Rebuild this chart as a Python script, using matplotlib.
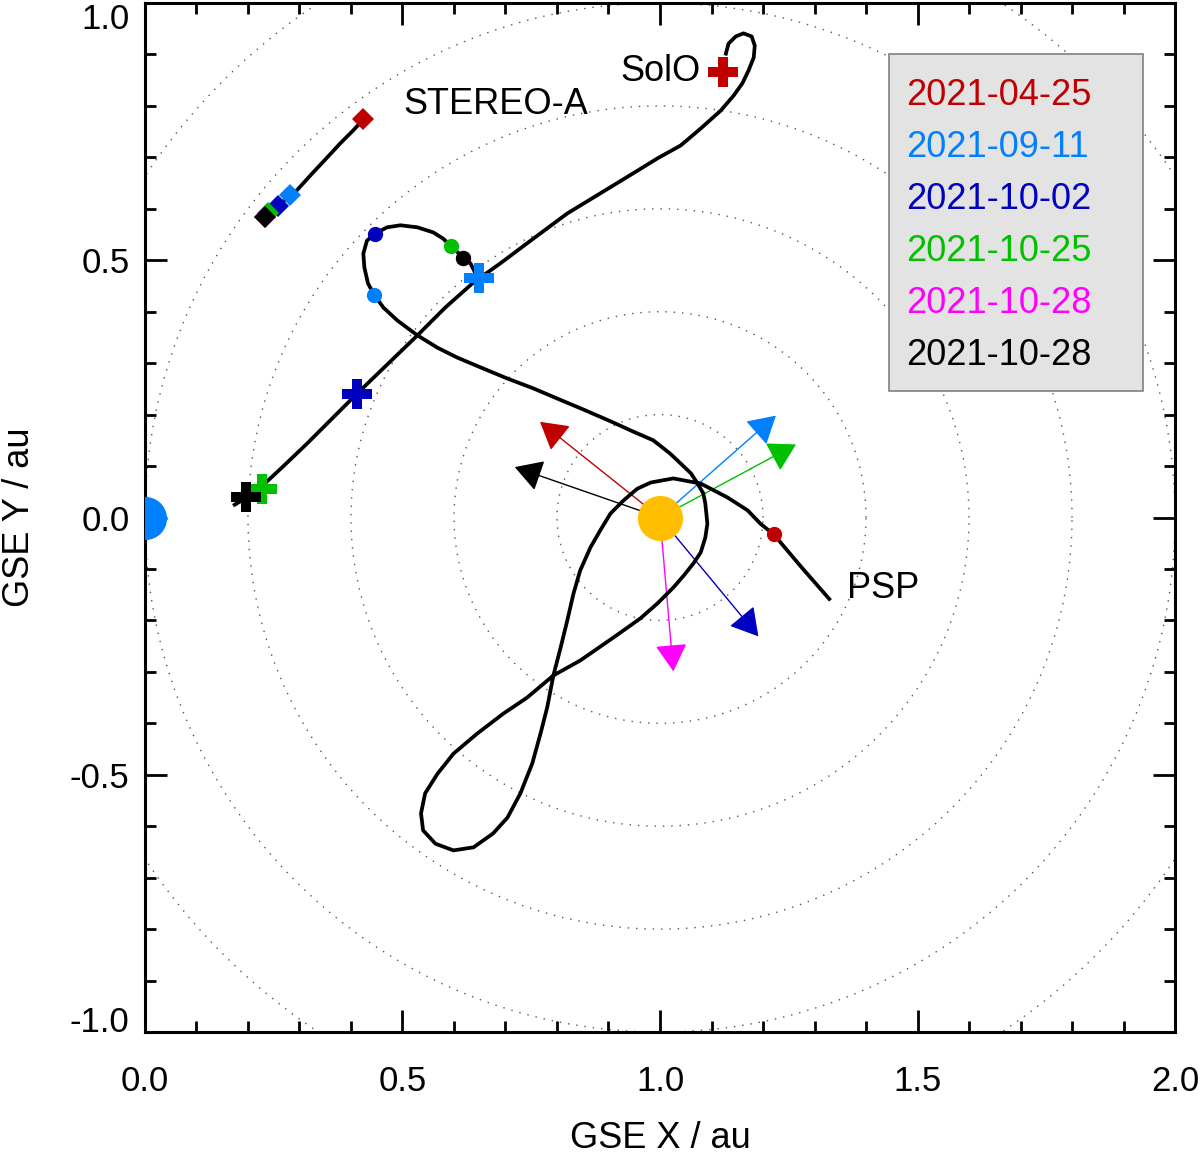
import numpy as np
import matplotlib
matplotlib.use("Agg")
import matplotlib.pyplot as plt
from matplotlib.patches import Rectangle

plt.rcParams['font.family'] = ['Liberation Sans', 'DejaVu Sans']

# ---------------- data (GSE coordinates, au) ----------------
dates = ["2021-04-25", "2021-09-11", "2021-10-02", "2021-10-25", "2021-10-28", "2021-10-28"]
colors = ["#C00000", "#0080FF", "#0000C0", "#00C000", "#FF00FF", "#000000"]

psp_x = [1.331, 1.275, 1.221, 1.195, 1.170, 1.131, 1.079, 1.026, 0.982, 0.956, 0.929, 0.904,
         0.884, 0.865, 0.845, 0.832, 0.820, 0.807, 0.793, 0.781, 0.768, 0.752, 0.729, 0.704,
         0.676, 0.638, 0.599, 0.564, 0.540, 0.536, 0.544, 0.568, 0.599, 0.645, 0.696, 0.742,
         0.793, 0.845, 0.910, 0.962, 0.995, 1.026, 1.046, 1.065, 1.079, 1.088, 1.092, 1.088,
         1.084, 1.073, 1.060, 1.040, 1.020, 0.987, 0.948, 0.904, 0.851, 0.801, 0.754, 0.704,
         0.651, 0.606, 0.568, 0.529, 0.490, 0.463, 0.445, 0.433, 0.426, 0.424, 0.431, 0.447,
         0.470, 0.496, 0.529, 0.560, 0.579, 0.595, 0.618, 0.632, 0.641]
psp_y = [-0.161, -0.097, -0.033, -0.012, 0.014, 0.039, 0.066, 0.076, 0.068, 0.056, 0.033, 0.008,
         -0.025, -0.058, -0.103, -0.148, -0.200, -0.253, -0.307, -0.369, -0.420, -0.478, -0.536, -0.583,
         -0.614, -0.641, -0.647, -0.634, -0.608, -0.575, -0.536, -0.498, -0.459, -0.420, -0.381, -0.350,
         -0.307, -0.278, -0.233, -0.196, -0.167, -0.136, -0.113, -0.089, -0.068, -0.039, -0.012, 0.027,
         0.047, 0.066, 0.086, 0.105, 0.124, 0.150, 0.167, 0.187, 0.210, 0.231, 0.251, 0.270,
         0.292, 0.311, 0.330, 0.354, 0.383, 0.408, 0.433, 0.455, 0.486, 0.513, 0.538, 0.552,
         0.564, 0.568, 0.564, 0.554, 0.542, 0.527, 0.505, 0.494, 0.476]

solo_x = [1.127, 1.133, 1.147, 1.162, 1.178, 1.184, 1.182, 1.172, 1.160, 1.143, 1.118, 1.079,
          1.040, 0.995, 0.948, 0.884, 0.820, 0.754, 0.690, 0.638, 0.583, 0.529, 0.470, 0.412,
          0.363, 0.315, 0.268, 0.224, 0.198, 0.171]
solo_y = [0.898, 0.921, 0.935, 0.941, 0.935, 0.917, 0.894, 0.869, 0.844, 0.820, 0.791, 0.756,
          0.723, 0.698, 0.669, 0.630, 0.591, 0.542, 0.494, 0.457, 0.408, 0.354, 0.297, 0.241,
          0.192, 0.144, 0.099, 0.058, 0.039, 0.023]

sta_x = [0.424, 0.404, 0.379, 0.354, 0.325, 0.295, 0.259, 0.233]
sta_y = [0.774, 0.752, 0.727, 0.700, 0.669, 0.636, 0.606, 0.585]

# positions at the event dates (red, light blue, dark blue, green, magenta, black)
psp_ev_x = [1.221, 0.445, 0.447, 0.595, 0.618, 0.618]
psp_ev_y = [-0.033, 0.433, 0.552, 0.527, 0.505, 0.505]
solo_ev_x = [1.123, 0.649, 0.412, 0.227, 0.196, 0.196]
solo_ev_y = [0.865, 0.465, 0.241, 0.056, 0.039, 0.039]
sta_ev_x = [0.424, 0.282, 0.259, 0.239, 0.233, 0.233]
sta_ev_y = [0.774, 0.626, 0.606, 0.591, 0.585, 0.585]

# propagation directions (arrow tips)
arrow_x = [0.767, 1.225, 1.191, 1.264, 1.026, 0.718]
arrow_y = [0.186, 0.198, -0.231, 0.142, -0.299, 0.098]

sun_xy = (1.0, 0.0)
earth_xy = (0.0, 0.0)
ring_radii = [0.2, 0.4, 0.6, 0.8, 1.0, 1.2]

x_ticks = [0.0, 0.5, 1.0, 1.5, 2.0]
x_ticklabels = ["0.0", "0.5", "1.0", "1.5", "2.0"]
y_ticks = [-1.0, -0.5, 0.0, 0.5, 1.0]
y_ticklabels = ["-1.0", "-0.5", "0.0", "0.5", "1.0"]

# ---------------- figure ----------------
fig = plt.figure(figsize=(12, 11.54), dpi=100)
ax = fig.add_axes([0.1208, 0.1057, 0.8584, 0.8917])
ax.set_xlim(0, 2)
ax.set_ylim(-1, 1)

# dotted distance circles around the Sun
th = np.linspace(0, 2 * np.pi, 721)
for r in ring_radii:
    ax.plot(sun_xy[0] + r * np.cos(th), sun_xy[1] + r * np.sin(th),
            color="#555555", lw=1.0, ls=(0, (1, 5)), zorder=1)

# arrows from the Sun
for ax_, ay_, c in zip(arrow_x, arrow_y, colors):
    ax.annotate("", xy=(ax_, ay_), xytext=sun_xy, xycoords="data",
                arrowprops=dict(arrowstyle="-|>,head_length=0.86,head_width=0.5",
                                color=c, lw=1.0, mutation_scale=20,
                                shrinkA=0, shrinkB=0), zorder=2)

# trajectories
for xs, ys in ((psp_x, psp_y), (solo_x, solo_y), (sta_x, sta_y)):
    ax.plot(xs, ys, color="black", lw=2.7, zorder=3,
            solid_joinstyle="round", solid_capstyle="butt")

# event markers
for i, c in enumerate(colors):
    ax.plot(psp_ev_x[i], psp_ev_y[i], marker="o", ms=11, color=c, mew=0, zorder=4)
    ax.plot(sta_ev_x[i], sta_ev_y[i], marker="D", ms=11, color=c, mew=0, zorder=4)
    ax.plot(solo_ev_x[i], solo_ev_y[i], marker="P", ms=21.5, color=c, mew=0, zorder=4)

# Sun and Earth
ax.plot(*sun_xy, marker="o", ms=32.5, color="#FFBF00", mew=0, zorder=5)
ax.plot(*earth_xy, marker="o", ms=31, color="#0080FF", mew=0, zorder=5, clip_on=True)

# spacecraft labels
ax.text(0.501, 0.803, "STEREO-A", fontsize=26, va="center", ha="left", zorder=6)
ax.text(0.923, 0.867, "SolO", fontsize=26, va="center", ha="left", zorder=6)
ax.text(1.364, -0.138, "PSP", fontsize=26, va="center", ha="left", zorder=6)

# legend box with dates
ax.add_patch(Rectangle((0.7223, 0.6229), 0.2466, 0.3275, transform=ax.transAxes,
                       facecolor="#E3E3E3", edgecolor="#808080", lw=1.2, zorder=7))
leg_y = [0.9100, 0.8595, 0.8090, 0.7584, 0.7079, 0.6574]
for d, c, yy in zip(dates, colors, leg_y):
    ax.text(0.7385, yy, d, color=c, fontsize=26, transform=ax.transAxes,
            va="center", ha="left", zorder=8)

# axes styling
for sp in ax.spines.values():
    sp.set_linewidth(2.2)
ax.set_xticks(x_ticks)
ax.set_xticklabels(x_ticklabels)
ax.set_yticks(y_ticks)
ax.set_yticklabels(y_ticklabels)
ax.set_xticks(np.arange(0, 2.01, 0.1), minor=True)
ax.set_yticks(np.arange(-1, 1.01, 0.1), minor=True)
ax.tick_params(which="both", direction="in", top=True, right=True, width=2.0)
ax.tick_params(which="major", length=16, labelsize=25)
ax.tick_params(which="minor", length=7.7)
ax.tick_params(axis="x", which="major", pad=24)
ax.tick_params(axis="y", which="major", pad=11)

yt = ax.yaxis.get_major_ticks()
yt[-1].label1.set_va("top")
yt[0].label1.set_va("baseline")

ax.set_xlabel("GSE X / au", fontsize=26)
ax.set_ylabel("GSE Y / au", fontsize=26)
ax.xaxis.set_label_coords(0.5, -0.0865)
ax.yaxis.set_label_coords(-0.105, 0.5)

fig.savefig("out.png", dpi=100)
